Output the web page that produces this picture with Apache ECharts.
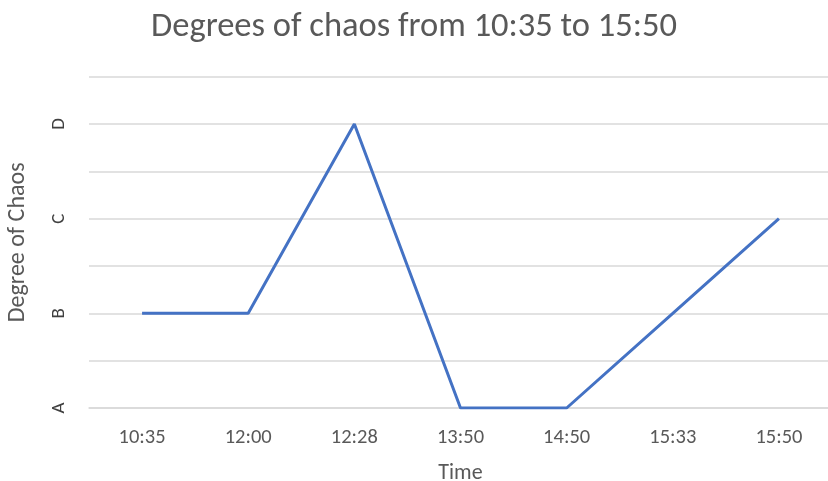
<!DOCTYPE html>
<html><head><meta charset="utf-8">
<script src="https://cdn.jsdelivr.net/npm/echarts@6/dist/echarts.min.js"></script>
<style>html,body{margin:0;padding:0;background:#fff}#c{width:828px;height:481px}</style>
</head><body><div id="c"></div>
<script>
const categories = ["10:35","12:00","12:28","13:50","14:50","15:33","15:50"];
const levelNames = ["A","B","C","D"];
const chaosLevels = [2, 2, 4, 1, 1, 2, 3]; // 1=A, 2=B, 3=C, 4=D
const titleText = "Degrees of chaos from 10:35 to 15:50";

const font = "Carlito, Lato, 'Open Sans', sans-serif";
const chart = echarts.init(document.getElementById('c'), null, {renderer:'canvas'});
chart.setOption({
  animation: false,
  title: {
    text: titleText, left: 'center', top: 5,
    textStyle: {fontFamily: font, fontSize: 34.5, fontWeight: 'normal', color: '#595959'}
  },
  grid: {left: 89, right: -4, top: 76.6, bottom: 73, containLabel: false, outerBoundsMode: 'none'},
  xAxis: {
    type: 'category', data: categories, boundaryGap: true,
    name: 'Time', nameLocation: 'middle', nameGap: 54,
    nameTextStyle: {fontFamily: font, fontSize: 22, color: '#595959'},
    axisLine: {lineStyle: {color: '#d9d9d9', width: 1.5}},
    axisTick: {show: false},
    axisLabel: {fontFamily: font, fontSize: 20.5, color: '#595959', margin: 19}
  },
  yAxis: {
    type: 'value', min: 1, max: 4.5, interval: 0.5,
    name: 'Degree of Chaos', nameLocation: 'middle', nameGap: 59, nameRotate: 90,
    nameTextStyle: {fontFamily: font, fontSize: 24, color: '#595959'},
    axisLine: {show: false}, axisTick: {show: false},
    splitLine: {lineStyle: {color: '#d9d9d9', width: 1.5}},
    axisLabel: {
      fontFamily: font, fontSize: 19, color: '#404040', rotate: 90, margin: 20,
      formatter: v => Number.isInteger(v) && v <= levelNames.length ? levelNames[v - 1] : ''
    }
  },
  series: [{
    type: 'line', data: chaosLevels, symbol: 'none',
    lineStyle: {color: '#4472c4', width: 3}
  }]
});
</script></body></html>
